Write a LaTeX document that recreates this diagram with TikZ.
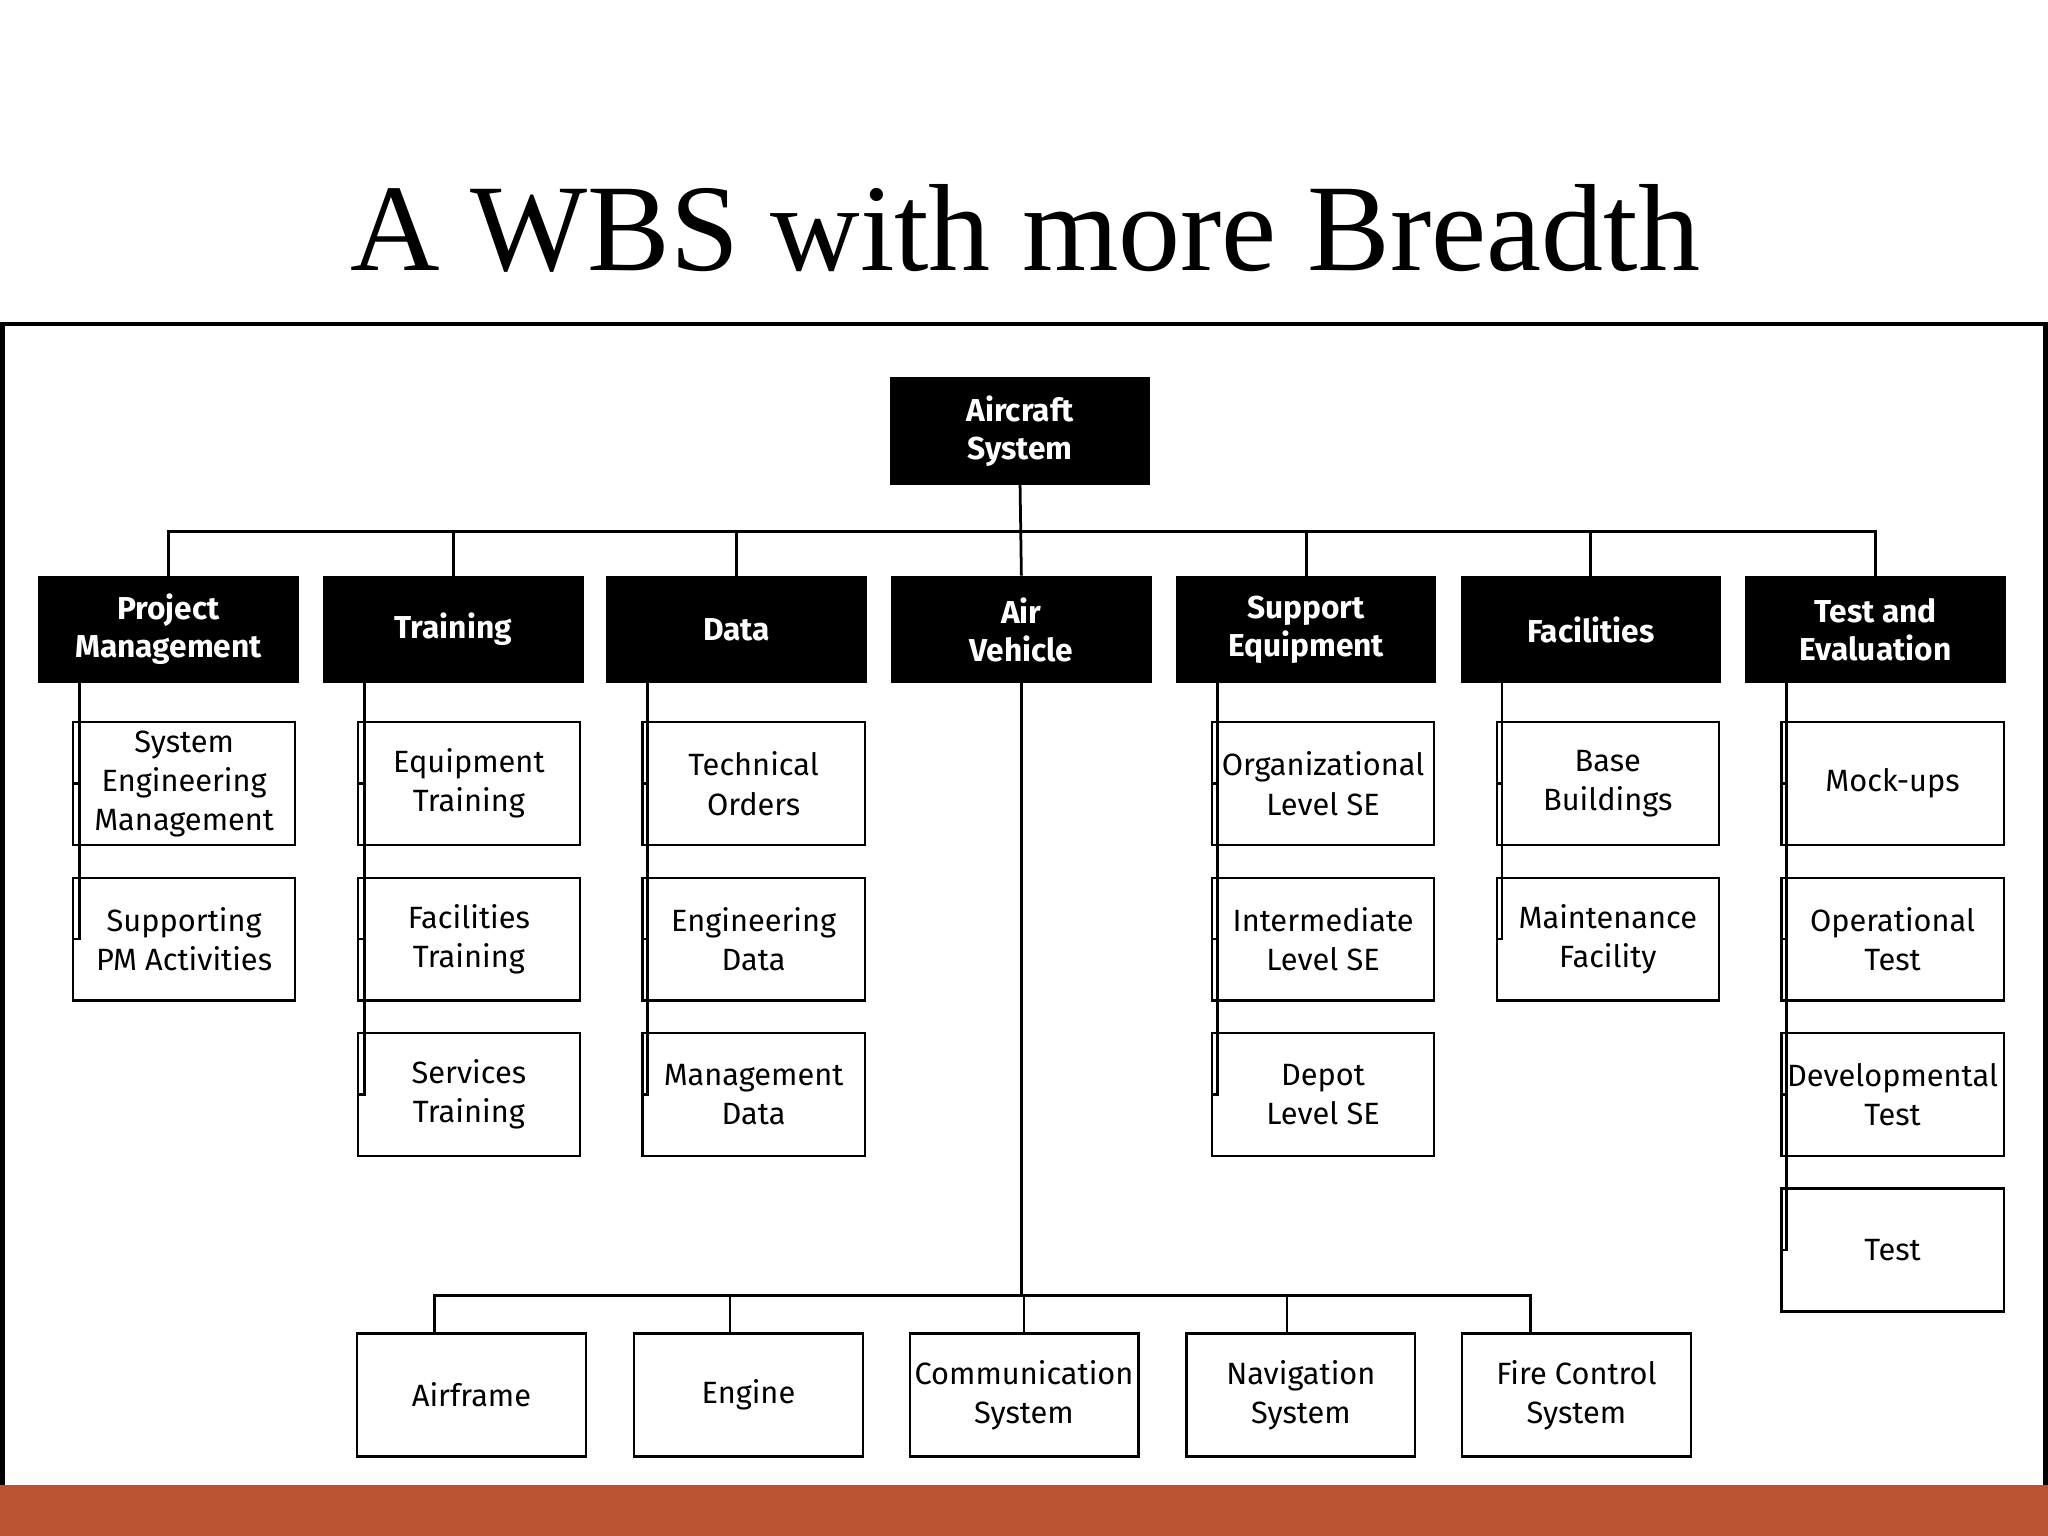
\documentclass[tikz,border=0pt]{standalone}
\usepackage{fontspec}
\setmainfont{Fira Sans}
\newfontfamily\titlefont{Liberation Serif}
\definecolor{barc}{HTML}{B85530}
\begin{document}
\begin{tikzpicture}[x=0.01cm,y=-0.01cm,
  hdr/.style={draw=black,fill=black,text=white,minimum width=1.98cm,minimum height=0.81cm,inner sep=0pt,align=center,font=\fontsize{6.9}{8.3}\selectfont\bfseries},
  leaf/.style={draw=black,line width=0.5pt,minimum width=1.70cm,minimum height=0.94cm,inner sep=0pt,align=center,font=\fontsize{6.7}{8.5}\selectfont},
  bot/.style={leaf,minimum width=1.75cm},
  ln/.style={line width=0.6pt}]
\useasboundingbox (0,0) rectangle (1568,1176);
\fill[barc] (0,1137) rectangle (1568,1176);
\draw[line width=1pt] (2,1137) -- (2,248) -- (1566,248) -- (1566,1137);
\node[font=\titlefont\fontsize{27}{30}\selectfont] (title) at (785,175) {A WBS with more Breadth};
\node[hdr] (root) at (781,330) {Aircraft\\System};
\node[hdr] (pm) at (129,482) {Project\\Management};
\node[hdr] (tr) at (347,482) {Training};
\node[hdr] (da) at (564,482) {Data};
\node[hdr] (av) at (782,482) {Air\\Vehicle};
\node[hdr] (se) at (1000,482) {Support\\Equipment};
\node[hdr] (fa) at (1218,482) {Facilities};
\node[hdr] (te) at (1436,482) {Test and\\Evaluation};
\coordinate (bus) at (0,407);
\draw[ln] (root.south) -- (av.north);
\draw[ln] (pm.north) -- (pm.north |- bus) -- (te.north |- bus) -- (te.north);
\foreach \n in {tr,da,se,fa} \draw[ln] (\n.north) -- (\n.north |- bus);
% children
\newcommand{\kids}[3]{%
 \foreach \t [count=\i] in {#3} {%
   \pgfmathsetmacro{\yy}{600+119*(\i-1)}
   \node[leaf] (#1k\i) at (#2,\yy) {\t};
   \draw[ln] ([xshift=9]#1.south west) |- (#1k\i.west);
 }}
\kids{pm}{141}{{System\\Engineering\\Management},{Supporting\\PM Activities}}
\kids{tr}{359}{{Equipment\\Training},{Facilities\\Training},{Services\\Training}}
\kids{da}{577}{{Technical\\Orders},{Engineering\\Data},{Management\\Data}}
\kids{se}{1013}{{Organizational\\Level SE},{Intermediate\\Level SE},{Depot\\Level SE}}
\kids{fa}{1231}{{Base\\Buildings},{Maintenance\\Facility}}
\kids{te}{1449}{{Mock-ups},{Operational\\Test},{Developmental\\Test},{Test}}
% air vehicle
\node[bot] (b1) at (361,1068) {Airframe};
\node[bot] (b2) at (573,1068) {Engine};
\node[bot] (b3) at (784,1068) {Communication\\System};
\node[bot] (b4) at (996,1068) {Navigation\\System};
\node[bot] (b5) at (1207,1068) {Fire Control\\System};
\coordinate (bus2) at (0,992);
\draw[ln] (av.south) -- (av.south |- bus2);
\draw[ln] ([xshift=-8]b1.north) -- ([xshift=-8]b1.north |- bus2) -- ([xshift=-10]b5.north |- bus2) -- ([xshift=-10]b5.north);
\draw[ln] ([xshift=-4]b2.north) -- ([xshift=-4]b2.north |- bus2);
\draw[ln] (b3.north) -- (b3.north |- bus2);
\draw[ln] ([xshift=-3]b4.north) -- ([xshift=-3]b4.north |- bus2);
\end{tikzpicture}
\end{document}
